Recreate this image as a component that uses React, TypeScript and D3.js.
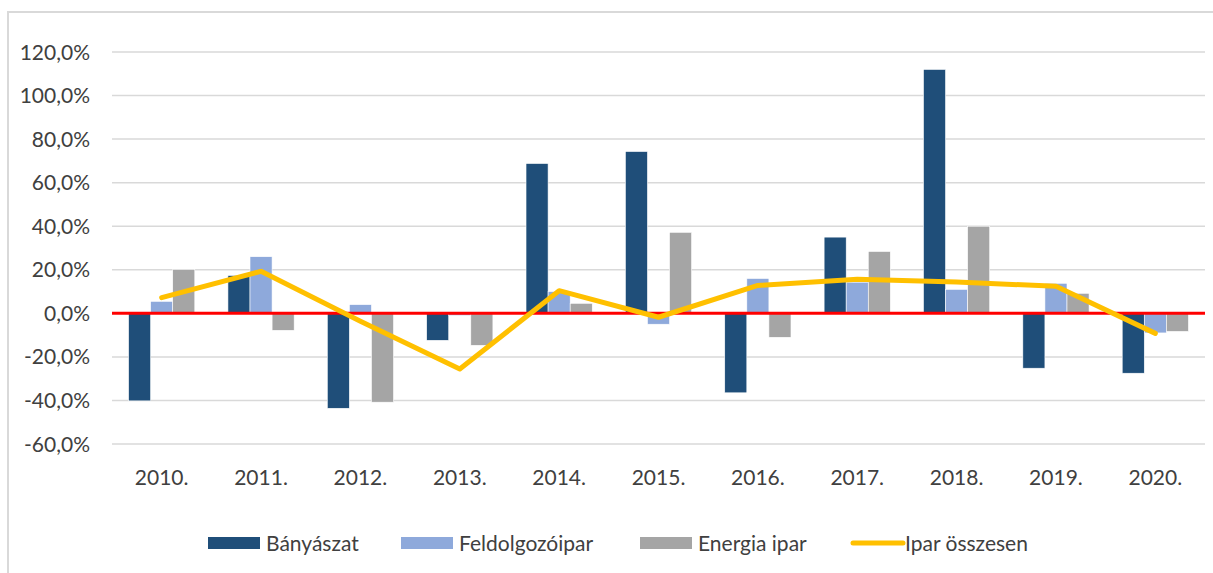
import { useEffect, useRef } from "react";
import * as d3 from "d3";

const years = ["2010.", "2011.", "2012.", "2013.", "2014.", "2015.", "2016.", "2017.", "2018.", "2019.", "2020."];
const banyaszat = [-40.2, 17.4, -43.6, -12.4, 68.8, 74.3, -36.5, 35.0, 112.0, -25.2, -27.5];
const feldolgozoipar = [5.5, 26.0, 4.0, -1.0, 10.0, -5.0, 16.0, 14.3, 11.0, 13.8, -9.0];
const energiaIpar = [20.2, -7.8, -40.8, -14.7, 4.6, 37.2, -11.0, 28.4, 40.0, 9.2, -8.3];
const iparOsszesen = [7.2, 19.3, -3.6, -25.6, 10.4, -1.8, 12.8, 15.6, 14.4, 12.4, -9.2];
const yTicks = [-60, -40, -20, 0, 20, 40, 60, 80, 100, 120];

const barSeries = [
  { name: "Bányászat", values: banyaszat, color: "#1F4E79" },
  { name: "Feldolgozóipar", values: feldolgozoipar, color: "#8EA9DB" },
  { name: "Energia ipar", values: energiaIpar, color: "#A5A5A5" },
];
const lineName = "Ipar összesen";
const lineColor = "#FFC000";

const App = () => {
  const ref = useRef<SVGSVGElement | null>(null);

  useEffect(() => {
    if (!ref.current) return;
    const svg = d3.select(ref.current);
    svg.selectAll("*").remove();

    const width = 1213;
    const height = 573;
    const m = { left: 112, right: 1205, top: 52, bottom: 444 };
    const font = "Lato, 'Open Sans', sans-serif";
    const fs = 21;

    // chart frame
    svg
      .append("rect")
      .attr("x", 8)
      .attr("y", 12)
      .attr("width", width)
      .attr("height", height)
      .attr("fill", "#fff")
      .attr("stroke", "#D9D9D9")
      .attr("stroke-width", 2);

    const x = d3.scaleBand<string>().domain(years).range([m.left, m.right]);
    const inner = d3
      .scaleBand<string>()
      .domain(barSeries.map((s) => s.name))
      .range([0, x.bandwidth()])
      .paddingInner(0)
      .paddingOuter(0.75);
    const y = d3.scaleLinear().domain([-60, 120]).range([m.bottom, m.top]);

    // gridlines
    svg
      .append("g")
      .selectAll("line")
      .data(yTicks)
      .join("line")
      .attr("x1", m.left)
      .attr("x2", m.right)
      .attr("y1", (d) => y(d))
      .attr("y2", (d) => y(d))
      .attr("stroke", "#D9D9D9")
      .attr("stroke-width", 1.5);

    // y labels
    svg
      .append("g")
      .selectAll("text")
      .data(yTicks)
      .join("text")
      .attr("x", 90)
      .attr("y", (d) => y(d))
      .attr("dy", "0.36em")
      .attr("text-anchor", "end")
      .attr("font-family", font)
      .attr("font-size", fs)
      .attr("fill", "#404040")
      .text((d) => d.toFixed(1).replace(".", ",") + "%");

    // x labels
    svg
      .append("g")
      .selectAll("text")
      .data(years)
      .join("text")
      .attr("x", (d) => x(d)! + x.bandwidth() / 2)
      .attr("y", 477)
      .attr("dy", "0.36em")
      .attr("text-anchor", "middle")
      .attr("font-family", font)
      .attr("font-size", fs)
      .attr("fill", "#404040")
      .text((d) => d);

    // bars
    barSeries.forEach((s) => {
      svg
        .append("g")
        .selectAll("rect")
        .data(s.values)
        .join("rect")
        .attr("x", (_, i) => x(years[i])! + inner(s.name)!)
        .attr("y", (d) => y(Math.max(0, d)))
        .attr("width", inner.bandwidth())
        .attr("height", (d) => Math.abs(y(d) - y(0)))
        .attr("fill", s.color)
        .attr("stroke", "#fff")
        .attr("stroke-width", 0.6);
    });

    // zero line
    svg
      .append("line")
      .attr("x1", m.left)
      .attr("x2", m.right)
      .attr("y1", y(0))
      .attr("y2", y(0))
      .attr("stroke", "#FF0000")
      .attr("stroke-width", 3);

    // total line
    const line = d3
      .line<number>()
      .x((_, i) => x(years[i])! + x.bandwidth() / 2)
      .y((d) => y(d));
    svg
      .append("path")
      .datum(iparOsszesen)
      .attr("d", line)
      .attr("fill", "none")
      .attr("stroke", lineColor)
      .attr("stroke-width", 5)
      .attr("stroke-linejoin", "round")
      .attr("stroke-linecap", "round");

    // legend
    const legendY = 543;
    const items = [
      ...barSeries.map((s) => ({ name: s.name, color: s.color, kind: "bar" })),
      { name: lineName, color: lineColor, kind: "line" },
    ];
    const legendX = [208, 401, 640, 851];
    const lg = svg.append("g");
    items.forEach((it, i) => {
      const g = lg.append("g").attr("transform", `translate(${legendX[i]},${legendY})`);
      if (it.kind === "bar") {
        g.append("rect")
          .attr("x", 0)
          .attr("y", -6)
          .attr("width", 52)
          .attr("height", 12)
          .attr("fill", it.color);
      } else {
        g.append("line")
          .attr("x1", 2)
          .attr("x2", 52)
          .attr("y1", 0)
          .attr("y2", 0)
          .attr("stroke", it.color)
          .attr("stroke-width", 5)
          .attr("stroke-linecap", "round");
      }
      g.append("text")
        .attr("x", it.kind === "bar" ? 58 : 54)
        .attr("y", 0)
        .attr("dy", "0.36em")
        .attr("font-family", font)
        .attr("font-size", fs)
        .attr("fill", "#404040")
        .text(it.name);
    });
  }, []);

  return (
    <svg
      ref={ref}
      width={1213}
      height={573}
      style={{ position: "absolute", left: 0, top: 0, display: "block" }}
    />
  );
};

export default App;
